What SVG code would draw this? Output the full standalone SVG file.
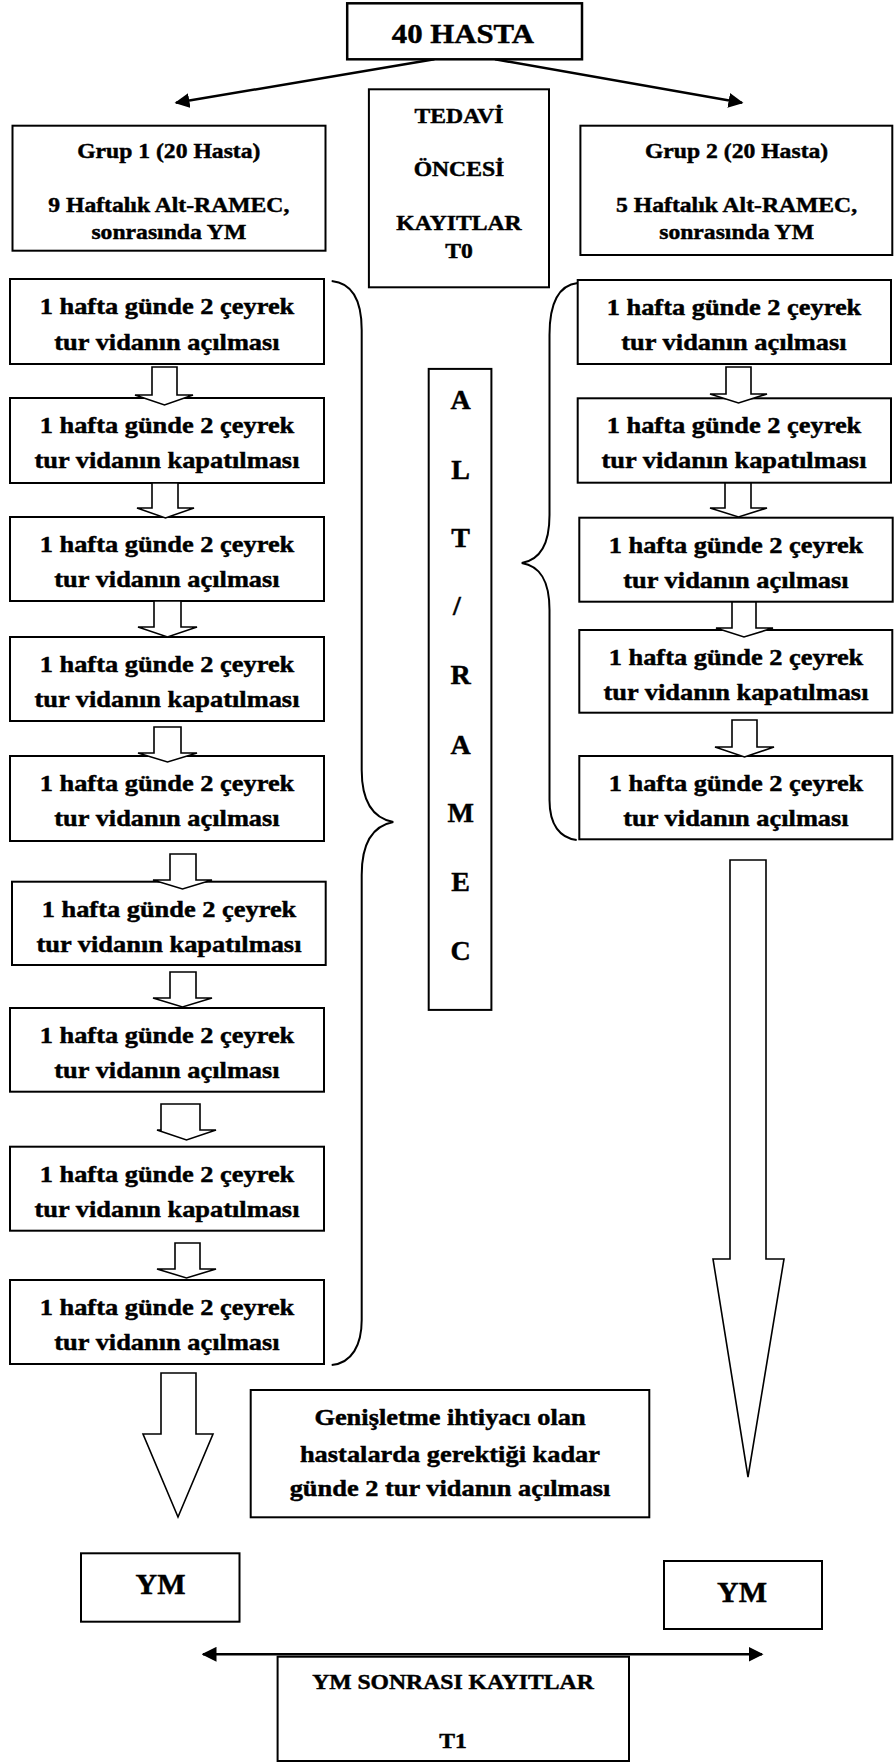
<svg xmlns="http://www.w3.org/2000/svg" width="894" height="1762" viewBox="0 0 894 1762">
<defs>
<style>
.bx{fill:#fff;stroke:#000;stroke-width:2}
.ha{fill:#fff;stroke:#000;stroke-width:1.6;stroke-linejoin:miter}
.ln{fill:none;stroke:#000;stroke-width:2.5}
.br{fill:none;stroke:#000;stroke-width:2}
.tx{font-family:'Liberation Serif','DejaVu Serif',serif;font-weight:bold;text-anchor:middle;fill:#000}
.tx text{stroke:#000;stroke-width:0.45}
.s{transform-box:fill-box;transform-origin:center;transform:scaleX(1.1)}
.f24{font-size:24px}
.f21{font-size:21.5px}
.f28{font-size:28px}
.f30{font-size:30px}
</style>
<marker id="ah" viewBox="0 0 10 10" refX="9" refY="5" markerWidth="6" markerHeight="6" markerUnits="strokeWidth" orient="auto-start-reverse">
<path d="M0,0 L10,5 L0,10 z" fill="#000"/>
</marker>
</defs>
<rect width="894" height="1762" fill="#fff"/>

<g id="connectors">
<line class="ln" x1="434.4" y1="59.3" x2="176" y2="102.8" marker-end="url(#ah)"/>
<line class="ln" x1="495" y1="59.3" x2="742" y2="102.8" marker-end="url(#ah)"/>
<path class="br" d="M331.7,281 C352,283 361.7,300 361.7,330 L361.7,770 C361.7,800 372,818 393.3,822 C372,826 361.7,845 361.7,875 L361.7,1320 C361.7,1345 352,1363 331.7,1365"/>
<path class="br" d="M577.7,283 C560,285 549.5,300 549.5,335 L549.5,515 C549.5,545 540,560 521.7,563 C540,566 549.5,580 549.5,610 L549.5,800 C549.5,825 560,838 576.7,840"/>
<line class="ln" x1="203" y1="1654.3" x2="762" y2="1654.3" marker-start="url(#ah)" marker-end="url(#ah)"/>
</g>

<g class="tx" font-family="Liberation Serif, DejaVu Serif, serif" font-weight="bold">
<g id="n40"><rect class="bx" x="347.2" y="3.3" width="234.8" height="56" style="stroke-width:2.5"/><text class="f28 s" x="463" y="43.3">40 HASTA</text></g>

<g id="grup1"><rect class="bx" x="12.5" y="125.7" width="313" height="125"/>
<text class="f21 s" x="168.8" y="158.3">Grup 1 (20 Hasta)</text>
<text class="f21 s" x="168.8" y="211.7">9 Haftalık Alt-RAMEC,</text>
<text class="f21 s" x="168.8" y="239.3">sonrasında YM</text></g>

<g id="tedavi"><rect class="bx" x="368.9" y="89.3" width="180.1" height="198"/>
<text class="f21 s" x="459" y="122.7">TEDAVİ</text>
<text class="f21 s" x="459" y="176">ÖNCESİ</text>
<text class="f21 s" x="459" y="230">KAYITLAR</text>
<text class="f21 s" x="459" y="258.3">T0</text></g>

<g id="grup2"><rect class="bx" x="580.4" y="125.7" width="311.9" height="129.3"/>
<text class="f21 s" x="736.6" y="158.3">Grup 2 (20 Hasta)</text>
<text class="f21 s" x="736.6" y="211.7">5 Haftalık Alt-RAMEC,</text>
<text class="f21 s" x="736.6" y="239.3">sonrasında YM</text></g>

<g id="altramec"><rect class="bx" x="428.7" y="368.9" width="62.7" height="641"/>
<text class="f28" x="460.7" y="409">A</text>
<text class="f28" x="460.7" y="479">L</text>
<text class="f28" x="460.7" y="547">T</text>
<text class="f28" x="457" y="615">/</text>
<text class="f28" x="460.7" y="683.5">R</text>
<text class="f28" x="460.7" y="753.5">A</text>
<text class="f28" x="460.7" y="822.4">M</text>
<text class="f28" x="460.7" y="891.3">E</text>
<text class="f28" x="460.7" y="960">C</text></g>

<g id="l1"><rect class="bx" x="10" y="279" width="314" height="85"/><text class="f24 s" x="167" y="314">1 hafta günde 2 çeyrek</text><text class="f24 s" x="167" y="350">tur vidanın açılması</text></g>
<g id="l2"><rect class="bx" x="10" y="398" width="314" height="85"/><text class="f24 s" x="167" y="433">1 hafta günde 2 çeyrek</text><text class="f24 s" x="167" y="468">tur vidanın kapatılması</text></g>
<g id="l3"><rect class="bx" x="10" y="517" width="314" height="84"/><text class="f24 s" x="167" y="552">1 hafta günde 2 çeyrek</text><text class="f24 s" x="167" y="587">tur vidanın açılması</text></g>
<g id="l4"><rect class="bx" x="10" y="637" width="314" height="84"/><text class="f24 s" x="167" y="672">1 hafta günde 2 çeyrek</text><text class="f24 s" x="167" y="707">tur vidanın kapatılması</text></g>
<g id="l5"><rect class="bx" x="10" y="756" width="314" height="85"/><text class="f24 s" x="167" y="791">1 hafta günde 2 çeyrek</text><text class="f24 s" x="167" y="826">tur vidanın açılması</text></g>
<g id="l6"><rect class="bx" x="12" y="881.7" width="313.7" height="83.3"/><text class="f24 s" x="169" y="917">1 hafta günde 2 çeyrek</text><text class="f24 s" x="169" y="952">tur vidanın kapatılması</text></g>
<g id="l7"><rect class="bx" x="10" y="1008" width="314" height="83.7"/><text class="f24 s" x="167" y="1043">1 hafta günde 2 çeyrek</text><text class="f24 s" x="167" y="1078">tur vidanın açılması</text></g>
<g id="l8"><rect class="bx" x="10" y="1146.7" width="314" height="84"/><text class="f24 s" x="167" y="1182">1 hafta günde 2 çeyrek</text><text class="f24 s" x="167" y="1217">tur vidanın kapatılması</text></g>
<g id="l9"><rect class="bx" x="10" y="1280" width="314" height="84"/><text class="f24 s" x="167" y="1315">1 hafta günde 2 çeyrek</text><text class="f24 s" x="167" y="1350">tur vidanın açılması</text></g>

<g id="r1"><rect class="bx" x="577.7" y="280" width="313.3" height="84"/><text class="f24 s" x="734" y="315">1 hafta günde 2 çeyrek</text><text class="f24 s" x="734" y="350">tur vidanın açılması</text></g>
<g id="r2"><rect class="bx" x="577.7" y="398.3" width="313.3" height="84.4"/><text class="f24 s" x="734" y="433">1 hafta günde 2 çeyrek</text><text class="f24 s" x="734" y="468">tur vidanın kapatılması</text></g>
<g id="r3"><rect class="bx" x="579.3" y="517.7" width="313.4" height="84"/><text class="f24 s" x="736" y="553">1 hafta günde 2 çeyrek</text><text class="f24 s" x="736" y="588">tur vidanın açılması</text></g>
<g id="r4"><rect class="bx" x="579.3" y="630" width="313" height="82.7"/><text class="f24 s" x="736" y="665">1 hafta günde 2 çeyrek</text><text class="f24 s" x="736" y="700">tur vidanın kapatılması</text></g>
<g id="r5"><rect class="bx" x="579.3" y="756" width="313" height="83.3"/><text class="f24 s" x="736" y="791">1 hafta günde 2 çeyrek</text><text class="f24 s" x="736" y="826">tur vidanın açılması</text></g>

<g id="genisletme"><rect class="bx" x="250.7" y="1390" width="398.6" height="127.3"/>
<text class="f24 s" x="450" y="1425">Genişletme ihtiyacı olan</text>
<text class="f24 s" x="450" y="1462">hastalarda gerektiği kadar</text>
<text class="f24 s" x="450" y="1496">günde 2 tur vidanın açılması</text></g>

<g id="ym1"><rect class="bx" x="81" y="1553.3" width="158.5" height="68.4"/><text class="f30" x="160.5" y="1594">YM</text></g>
<g id="ym2"><rect class="bx" x="664" y="1561" width="158" height="68"/><text class="f30" x="742" y="1602">YM</text></g>
<g id="t1"><rect class="bx" x="277.6" y="1656.7" width="351.4" height="104.3"/>
<text class="f21 s" x="453" y="1689">YM SONRASI KAYITLAR</text>
<text class="f21 s" x="453" y="1747.7">T1</text></g>
</g>

<g id="hollow-arrows">
<polygon class="ha" points="152,367 177,367 177,395 193,395 164.5,405 135,395 152,395"/>
<polygon class="ha" points="152,483 178,483 178,508 194,508 165.5,518 137,508 152,508"/>
<polygon class="ha" points="154,601 181,601 181,627 197,627 167.5,637 138,627 154,627"/>
<polygon class="ha" points="154,727 181,727 181,753 197,753 167.5,762 138,753 154,753"/>
<polygon class="ha" points="170,854 196,854 196,880 212,880 182.5,889 153,880 170,880"/>
<polygon class="ha" points="170,972 196,972 196,998 212,998 182.5,1007 153,998 170,998"/>
<polygon class="ha" points="161,1104 200,1104 200,1130 216,1130 186.5,1140 157,1130 161,1130"/>
<polygon class="ha" points="175,1243 200,1243 200,1269 216,1269 186.5,1278 157,1269 175,1269"/>
<polygon class="ha" points="161,1373 196,1373 196,1434 213,1434 178,1517 143,1434 161,1434"/>
<polygon class="ha" points="726,367 751,367 751,394 767,394 738.5,403 710,394 726,394"/>
<polygon class="ha" points="725,483 751,483 751,508 767,508 738.5,517 710,508 725,508"/>
<polygon class="ha" points="732,602 756,602 756,628 773,628 744,637 716,628 732,628"/>
<polygon class="ha" points="732,720 757,720 757,747 774,747 744.5,757 715,747 732,747"/>
<polygon class="ha" points="730,860 766,860 766,1259 784,1259 748,1477 713,1259 730,1259"/>
</g>
</svg>
